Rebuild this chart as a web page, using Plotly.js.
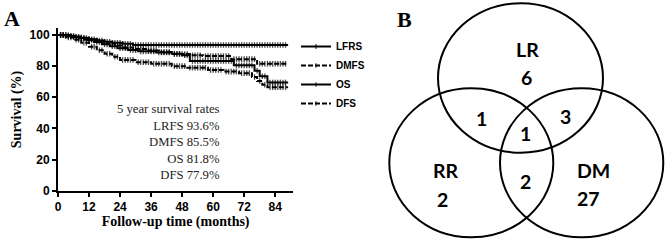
<!DOCTYPE html>
<html><head><meta charset="utf-8">
<script src="https://cdn.plot.ly/plotly-3.0.1.min.js"></script>
<style>html,body{margin:0;padding:0;background:#fff}#chart{width:668px;height:243px}</style>
</head><body><div id="chart"></div>
<script>
// ---------- Panel A: Kaplan-Meier data ----------
const seriesNames = ['LFRS', 'DMFS', 'OS', 'DFS'];
const endTime = 89;

const lrfsTimes = [0, 3, 6, 9, 12, 15, 18, 21, 25, 29];
const lrfsSurv  = [100, 99.4, 98.7, 98, 97.2, 96.4, 95.6, 95, 94.3, 93.6];
const lrfsCensor = [1,2,3,4,5,6,7,8,9,10,11,12,13,14,15,16,17,18,19,20,21,22,23,24,25,26,27,28,29,30,31,32,33,34,35,36,37,38,39,40,41,42,43,44,45,46,47,48,49,50,51,52,53,54,55,56,57,58,59,60,61,62,63,64,65,66,67,68,69,70,71,72,73,74,75,76,77,78,79,80,81,82,83,84,85,86,87,88];

const dmfsTimes = [0, 4, 7, 10, 13, 16, 19, 22, 25, 29, 34, 39, 44, 51, 56, 67, 77];
const dmfsSurv  = [100, 99.3, 98.5, 97.5, 96.5, 95.3, 94.3, 93.2, 92, 91, 90, 89, 87.8, 87, 86.5, 84.5, 81.5];
const dmfsCensor = [1,2,3,5,6,8,9,11,12,14,15,17,18,20,21,23,24,26,27,28,30,31,32,33,35,36,37,38,40,41,42,43,45,46,47,48,49,50,52,53,54,55,57,58,59,60,61,62,63,64,65,66,68,69,70,71,72,73,74,75,76,78,79,80,81,82,83,84,85,86,87,88];

const osTimes = [0, 5, 8, 11, 14, 17, 20, 23, 27, 31, 38, 44, 48, 51, 68, 76, 78, 81];
const osSurv  = [100, 99, 98, 96.8, 95.5, 94, 92.8, 91.5, 90.3, 89.5, 88.8, 88, 87, 83.3, 80.5, 77, 73.5, 69.5];
const osCensor = [1,2,3,4,6,7,9,10,12,13,15,16,18,19,21,22,24,25,26,28,29,30,32,33,34,35,36,37,39,40,41,42,43,45,46,47,49,50,52,53,54,55,56,57,58,59,60,61,62,63,64,65,66,67,69,70,71,72,73,74,75,77,79,80,82,83,84,85,86,87,88];

const dfsTimes = [0, 3, 6, 9, 12, 15, 18, 21, 24, 30, 36, 44, 50, 58, 64, 70, 75, 77, 79, 81];
const dfsSurv  = [100, 98.5, 97, 95, 92.5, 90.2, 88, 86, 84, 82.5, 81.5, 80, 79, 77.5, 76.5, 75.5, 73, 70.5, 68, 66.5];
const dfsCensor = [1,2,4,5,7,8,10,11,13,14,16,17,19,20,22,23,25,26,27,28,29,31,32,33,34,35,37,38,39,40,41,42,43,45,46,47,48,49,51,52,53,54,55,56,57,59,60,61,62,63,65,66,67,68,69,71,72,73,74,76,78,80,82,83,84,85,86,87,88];

const xTickVals = [0, 12, 24, 36, 48, 60, 72, 84];
const yTickVals = [0, 20, 40, 60, 80, 100];

const rateTitle = '5 year survival rates';
const rateLabels = ['LRFS', 'DMFS', 'OS', 'DFS'];
const rateValues = [93.6, 85.5, 81.8, 77.9];

// ---------- Panel B: Venn data ----------
const vennSetNames = ['LR', 'RR', 'DM'];
const vennOnlyCounts = [6, 2, 27];           // LR only, RR only, DM only
const vennPairLabels = ['LR∩RR', 'LR∩DM', 'RR∩DM'];
const vennPairCounts = [1, 3, 2];
const vennTripleCount = 1;

// ---------- build ----------
function buildKM(times, surv, censor) {
  const pts = [];
  times.forEach((t, i) => pts.push({x: t, y: surv[i], s: 0}));
  censor.forEach(c => {
    let y = surv[0];
    for (let i = 0; i < times.length; i++) if (times[i] <= c) y = surv[i];
    pts.push({x: c, y: y, s: 4});
  });
  pts.push({x: endTime, y: surv[surv.length - 1], s: 0});
  pts.sort((a, b) => (a.x - b.x) || (a.s - b.s));
  return {x: pts.map(p => p.x), y: pts.map(p => p.y), s: pts.map(p => p.s)};
}

const kmSets = [
  [lrfsTimes, lrfsSurv, lrfsCensor, 'solid'],
  [dmfsTimes, dmfsSurv, dmfsCensor, '5px,2px'],
  [osTimes, osSurv, osCensor, 'solid'],
  [dfsTimes, dfsSurv, dfsCensor, '5px,2px']
];

const traces = kmSets.map((set, i) => {
  const d = buildKM(set[0], set[1], set[2]);
  return {
    type: 'scatter', mode: 'lines+markers', name: seriesNames[i],
    x: d.x, y: d.y, xaxis: 'x', yaxis: 'y',
    line: {shape: 'hv', color: '#000', width: 2, dash: set[3]},
    marker: {symbol: 'line-ns', size: d.s, color: '#000', line: {color: '#000', width: 1.3}},
    hoverinfo: 'skip'
  };
});

// Venn geometry (layout only)
const W = 668, H = 243;
const vennEllipses = [
  {x0: 438, x1: 603, y0: 3.3, y1: 152.7},
  {x0: 389.3, x1: 553.3, y0: 88.3, y1: 237.3},
  {x0: 500, x1: 663.3, y0: 88.3, y1: 237.3}
];
const setLabelPos = [[527, 49], [445.5, 170], [593, 170]];
const onlyCountPos = [[526.5, 77.5], [442, 199], [588, 198.5]];
const pairCountPos = [[481.5, 118], [565, 116.5], [525.5, 181.5]];
const triplePos = [525.5, 133];

const vennFont = {family: 'Lato, "Liberation Sans", Arial, sans-serif', size: 19.5, color: '#000', weight: 'bold'};
const annotations = [];
vennSetNames.forEach((n, i) => annotations.push({xref: 'x2', yref: 'y2', x: setLabelPos[i][0], y: setLabelPos[i][1], text: n, showarrow: false, font: vennFont}));
vennOnlyCounts.forEach((c, i) => annotations.push({xref: 'x2', yref: 'y2', x: onlyCountPos[i][0], y: onlyCountPos[i][1], text: String(c), showarrow: false, font: vennFont}));
vennPairCounts.forEach((c, i) => annotations.push({xref: 'x2', yref: 'y2', x: pairCountPos[i][0], y: pairCountPos[i][1], text: String(c), showarrow: false, font: vennFont}));
annotations.push({xref: 'x2', yref: 'y2', x: triplePos[0], y: triplePos[1], text: String(vennTripleCount), showarrow: false, font: vennFont});

// Panel labels
const panelFont = {family: '"Liberation Serif", "Times New Roman", serif', size: 22, color: '#000', weight: 'bold'};
annotations.push({xref: 'paper', yref: 'paper', x: 12.5 / W, y: 1 - 19 / H, text: 'A', showarrow: false, font: panelFont, xanchor: 'center', yanchor: 'middle'});
annotations.push({xref: 'paper', yref: 'paper', x: 404 / W, y: 1 - 20 / H, text: 'B', showarrow: false, font: panelFont, xanchor: 'center', yanchor: 'middle'});

// Survival rates text
const rateLines = [rateTitle].concat(rateLabels.map((l, i) => l + ' ' + rateValues[i].toFixed(1) + '%'));
annotations.push({xref: 'paper', yref: 'paper', x: 222 / W, y: 1 - 142 / H, xanchor: 'right', yanchor: 'middle', align: 'right',
  text: rateLines.join('<br>'), showarrow: false,
  font: {family: '"Liberation Serif", "Times New Roman", serif', size: 12.7, color: '#222'}});

const shapes = vennEllipses.map(e => ({type: 'circle', xref: 'x2', yref: 'y2', x0: e.x0, x1: e.x1, y0: e.y0, y1: e.y1, line: {color: '#000', width: 2}, fillcolor: 'rgba(0,0,0,0)'}));

const tickFont = {family: '"Liberation Sans", Arial, sans-serif', size: 12, color: '#000', weight: 'bold'};
const titleFont = {family: '"Liberation Serif", "Times New Roman", serif', size: 14, color: '#000', weight: 'bold'};

const layout = {
  width: W, height: H,
  margin: {l: 0, r: 0, t: 0, b: 0},
  paper_bgcolor: '#fff', plot_bgcolor: 'rgba(0,0,0,0)',
  showlegend: true,
  legend: {x: 296 / W, y: 1 - 32 / H, xanchor: 'left', yanchor: 'top', bgcolor: 'rgba(0,0,0,0)',
    font: {family: '"Liberation Sans", Arial, sans-serif', size: 10, color: '#000', weight: 'bold'},
    tracegroupgap: 0, itemwidth: 30},
  xaxis: {domain: [58 / W, 293.3 / W], range: [0, 91], anchor: 'y',
    tickvals: xTickVals, ticktext: xTickVals.map(String),
    showline: true, linecolor: '#000', linewidth: 2, ticks: 'outside', ticklen: 4, tickwidth: 2, tickcolor: '#000',
    showgrid: false, zeroline: false, tickfont: tickFont,
    title: {text: 'Follow-up time (months)', font: titleFont, standoff: 3}},
  yaxis: {domain: [1 - 190.7 / H, 1 - 28.3 / H], range: [0, 104.3], anchor: 'x',
    tickvals: yTickVals, ticktext: yTickVals.map(String),
    showline: true, linecolor: '#000', linewidth: 2, ticks: 'outside', ticklen: 4, tickwidth: 2, tickcolor: '#000',
    showgrid: false, zeroline: false, tickfont: tickFont,
    title: {text: 'Survival (%)', font: titleFont, standoff: 5}},
  xaxis2: {domain: [350 / W, 1], range: [350, 668], visible: false, anchor: 'y2', fixedrange: true},
  yaxis2: {domain: [0, 1], range: [243, 0], visible: false, anchor: 'x2', fixedrange: true},
  shapes: shapes,
  annotations: annotations
};

Plotly.newPlot('chart', traces, layout, {staticPlot: true, displayModeBar: false});
</script>
</body></html>
